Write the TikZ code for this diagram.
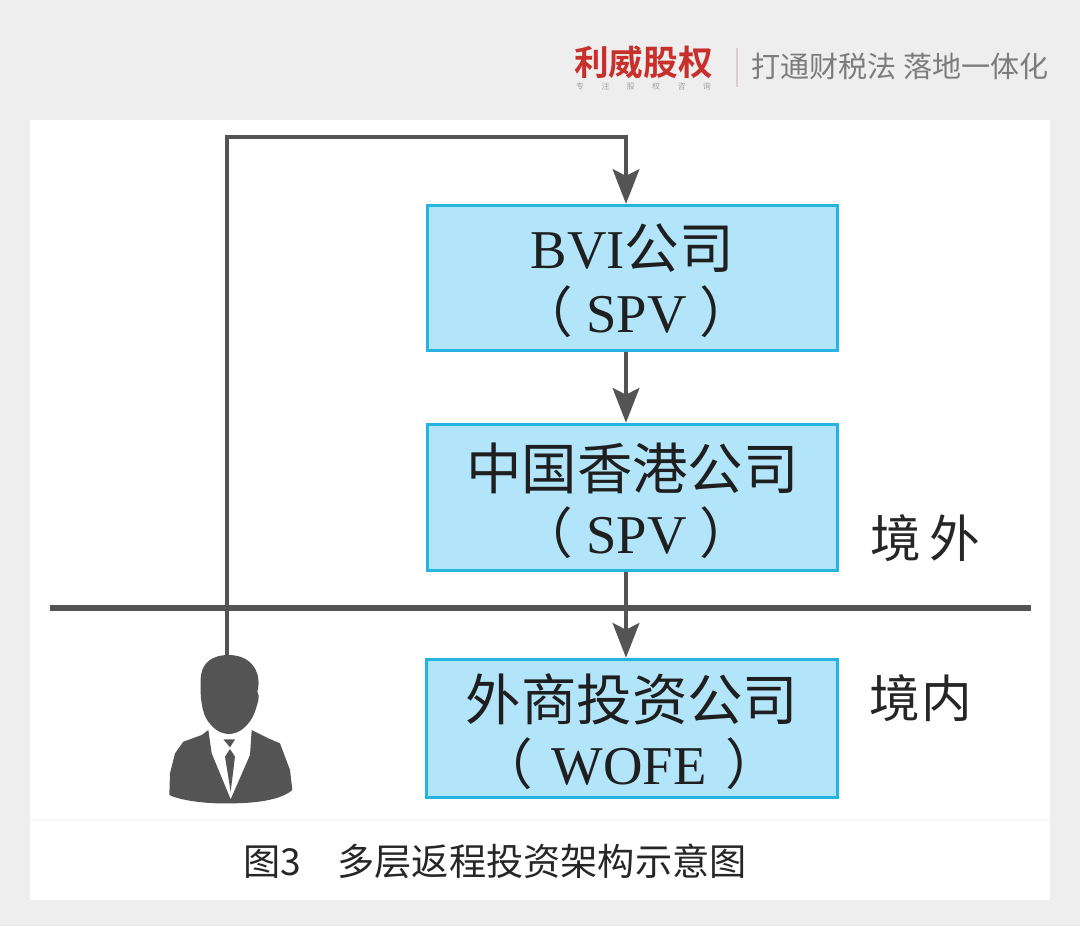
\documentclass[tikz,border=0pt]{standalone}
\usepackage{fontspec}
\setmainfont{Liberation Serif}
\newfontfamily\cjk{Noto Sans CJK SC}
\newfontfamily\cjkbold{Noto Sans CJK SC Bold}
\usetikzlibrary{arrows.meta}
\definecolor{panelgray}{HTML}{EEEEEE}
\definecolor{boxfill}{HTML}{B2E5FA}
\definecolor{boxline}{HTML}{25B4E2}
\definecolor{darkline}{HTML}{555455}
\definecolor{logored}{HTML}{C8302C}
\definecolor{slogan}{HTML}{7C7C7C}
\newcommand{\boxrow}[1]{\raisebox{-2.4pt}[\height][\depth]{#1}}
\tikzset{
    company/.style={draw=boxline, fill=boxfill, line width=2.2pt, minimum width=308pt, inner sep=0pt, align=center, text=black!88, font=\fontsize{41}{50}\selectfont},
    flow/.style={draw=darkline, line width=3pt, -{Stealth[length=26pt, width=20pt, inset=5pt]}},
    side/.style={text=black!85, font=\fontsize{38}{40}\cjk},
}
\begin{document}
\begin{tikzpicture}[x=0.75pt, y=-0.75pt]
    \useasboundingbox (0,0) rectangle (1080,926);
    \fill[panelgray] (0,0) rectangle (1080,926);
    \fill[white] (30,120) rectangle (1050,900);
    \draw[panelgray!50, line width=0.8pt] (30,820) -- (1050,820);

    % header
    \node[text=logored, font=\fontsize{26}{30}\cjkbold] (brand) at (643.5,62) {利威股权};
    \node[text=slogan!70, font=\fontsize{6}{8}\cjk] (brandsub) at (643.5,86) {专\hspace{13pt}注\hspace{13pt}股\hspace{13pt}权\hspace{13pt}咨\hspace{13pt}询};
    \node[text=slogan, font=\fontsize{21.8}{26}\cjk] (motto) at (900,66) {打通财税法 落地一体化};
    \coordinate (sepa) at (737,48);
    \coordinate (sepb) at (737,87);
    \draw[red!25!black!20, line width=1pt] (sepa) -- (sepb);

    % boxes
    \node[company, minimum height=109pt] (bvi) at (632.5,278) {\boxrow{BVI{\cjk 公司}}\\[-2pt]\boxrow{\hspace{6pt}{\cjk （}\hspace{10pt}SPV\hspace{10pt}{\cjk ）}}};
    \node[company, minimum height=110pt] (hk) at (632.5,497.5) {\boxrow{\fontsize{41.6}{50}\selectfont\cjk 中国香港公司}\\[-2pt]\boxrow{\hspace{6pt}{\cjk （}\hspace{10pt}SPV\hspace{10pt}{\cjk ）}}};
    \node[company, minimum height=104pt] (wofe) at (632,728.5) {\boxrow{\fontsize{41.6}{50}\selectfont\cjk 外商投资公司}\\[-2pt]\boxrow{\hspace{-4pt}{\cjk （}\hspace{14pt}WOFE\hspace{14pt}{\cjk ）}}};

    \node[side] (abroad) at (925,538) {境\,外};
    \node[side] (home) at (921,698) {境\hspace{1pt}内};
    \node[font=\fontsize{27.9}{30}\cjk, text=black!85, anchor=west] (caption) at (239,861) {图3\hspace{27pt}多层返程投资架构示意图};

    % border line
    \coordinate (bordera) at (50,608);
    \coordinate (borderb) at (1031,608);
    \draw[darkline, line width=4.5pt] (bordera) -- (borderb);

    % person
    \begin{scope}[shift={(140,640)}, scale=1/3]
        \fill[darkline] (265,45) .. controls (215,45) and (182,70) .. (182,120)
            .. controls (180,170) and (185,220) .. (205,245)
            .. controls (225,272) and (245,282) .. (270,282)
            .. controls (300,280) and (330,255) .. (345,215)
            .. controls (352,190) and (362,170) .. (352,155)
            .. controls (365,110) and (345,45) .. (265,45) -- cycle;
        \fill[darkline] (205,270) -- (185,285) -- (130,305) -- (105,340) -- (90,400) -- (88,465)
            .. controls (130,485) and (220,492) .. (270,490)
            .. controls (340,490) and (420,482) .. (457,450)
            -- (450,390) -- (420,310) -- (385,295) -- (335,270)
            -- (330,345) -- (272,478) -- (215,340) -- cycle;
        \fill[darkline] (250,298) -- (285,298) -- (270,322) -- cycle;
        \fill[darkline] (270,327) -- (285,350) -- (272,455) -- (255,350) -- cycle;
    \end{scope}
    \coordinate (person) at (227,655);

    % arrows
    \coordinate (axis) at (626,137);
    \draw[flow] (person) |- (axis) -- (axis |- bvi.north);
    \draw[flow] (axis |- bvi.south) -- (axis |- hk.north);
    \draw[flow] (axis |- hk.south) -- (axis |- wofe.north);
\end{tikzpicture}
\end{document}
